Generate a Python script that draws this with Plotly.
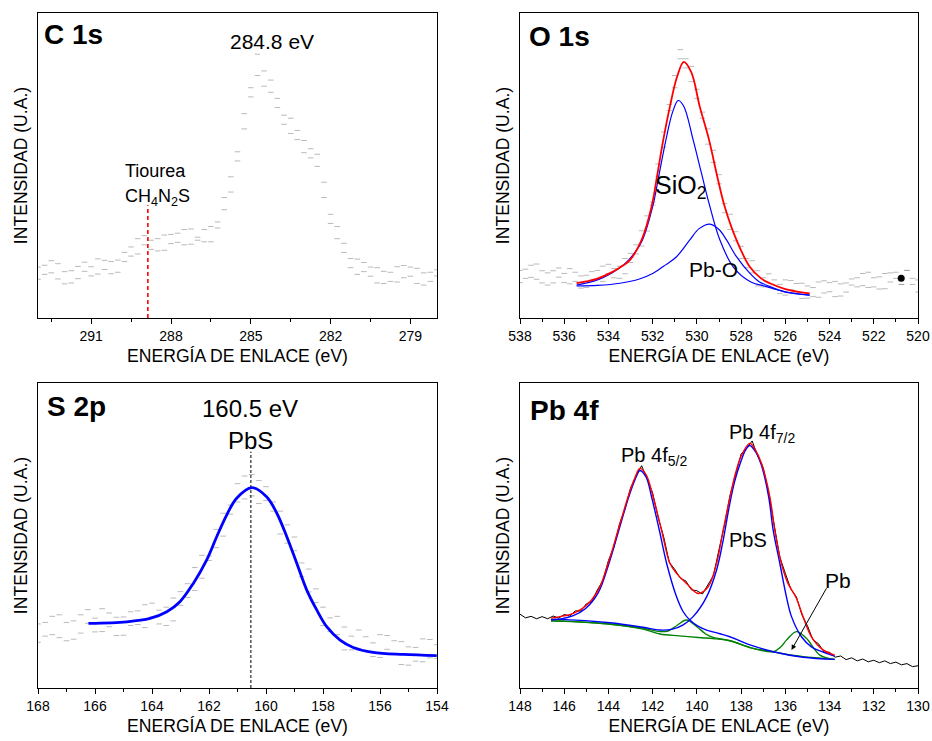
import plotly.graph_objects as go

FONT = "Liberation Sans, Arial, Helvetica, sans-serif"

# ---------------- C 1s ----------------
c1s_energy = [293.0, 292.75, 292.5, 292.25, 292.0, 291.75, 291.5, 291.25, 291.0, 290.75,
              290.5, 290.25, 290.0, 289.75, 289.5, 289.25, 289.0, 288.75, 288.5, 288.25,
              288.0, 287.75, 287.5, 287.25, 287.0, 286.75, 286.5, 286.25, 286.0, 285.75,
              285.5, 285.25, 285.0, 284.75, 284.5, 284.25, 284.0, 283.75, 283.5, 283.25,
              283.0, 282.75, 282.5, 282.25, 282.0, 281.75, 281.5, 281.25, 281.0, 280.75,
              280.5, 280.25, 280.0, 279.75, 279.5, 279.25, 279.0, 278.75, 278.5, 278.25, 278.0]
c1s_scan_a = [16.7, 14.3, 18.8, 12.8, 15.2, 11.5, 16.9, 15.3, 13.8, 19.4,
              15.9, 18.5, 15.0, 21.5, 20.3, 26.0, 24.0, 22.5, 26.0, 22.2,
              27.4, 24.8, 29.0, 24.2, 26.5, 29.0, 25.0, 31.5, 35.5, 46.3,
              51.5, 67.0, 72.5, 79.5, 76.0, 78.0, 69.0, 63.5, 65.5, 58.5,
              58.2, 52.5, 53.7, 39.5, 34.0, 26.0, 24.5, 16.5, 19.3, 15.2,
              13.7, 16.5, 11.3, 15.0, 11.8, 17.2, 13.7, 16.3, 10.8, 15.0, 13.8]
c1s_scan_b = [12.7, 17.3, 14.8, 17.8, 11.2, 15.5, 12.9, 18.3, 16.8, 14.4,
              18.9, 14.5, 19.0, 18.5, 23.3, 21.0, 27.0, 25.5, 22.0, 27.2,
              24.4, 27.8, 24.0, 29.2, 25.5, 25.0, 30.0, 29.5, 39.5, 41.3,
              54.5, 62.0, 75.5, 86.5, 81.0, 74.0, 72.0, 66.5, 60.5, 61.5,
              54.2, 55.5, 49.7, 44.5, 31.0, 30.0, 21.5, 19.5, 14.3, 18.2,
              16.7, 11.5, 15.3, 12.0, 16.8, 13.2, 16.7, 11.3, 14.8, 12.0, 15.8]
c1s_thiourea_energy = 288.87
c1s_thiourea_top = 37.0

# ---------------- O 1s ----------------
o1s_energy = [538.0, 537.75, 537.5, 537.25, 537.0, 536.75, 536.5, 536.25, 536.0, 535.75,
              535.5, 535.25, 535.0, 534.75, 534.5, 534.25, 534.0, 533.75, 533.5, 533.25,
              533.0, 532.75, 532.5, 532.25, 532.0, 531.75, 531.5, 531.25, 531.0, 530.75,
              530.5, 530.25, 530.0, 529.75, 529.5, 529.25, 529.0, 528.75, 528.5, 528.25,
              528.0, 527.75, 527.5, 527.25, 527.0, 526.75, 526.5, 526.25, 526.0, 525.75,
              525.5, 525.25, 525.0, 524.75, 524.5, 524.25, 524.0, 523.75, 523.5, 523.25,
              523.0, 522.75, 522.5, 522.25, 522.0, 521.75, 521.5, 521.25, 521.0, 520.75,
              520.5, 520.25, 520.0]
o1s_scan_a = [15.6, 13.0, 17.3, 12.7, 15.5, 10.8, 15.5, 13.4, 11.6, 16.2,
              12.0, 13.8, 10.0, 15.2, 12.6, 17.0, 14.6, 13.2, 17.0, 14.5,
              21.2, 21.0, 28.6, 28.5, 38.0, 50.5, 56.0, 70.0, 75.5, 85.0,
              82.0, 82.5, 72.0, 67.5, 57.0, 55.0, 44.0, 34.5, 34.0, 25.3,
              23.5, 16.5, 18.8, 10.5, 13.2, 10.5, 12.5, 8.0, 12.5, 9.3,
              8.3, 11.4, 6.5, 10.0, 6.8, 12.2, 8.6, 12.0, 7.2, 11.5,
              10.8, 13.2, 10.6, 15.0, 10.2, 13.5, 9.6, 14.8, 13.0, 11.0,
              15.6, 11.0, 12.5]
o1s_scan_b = [11.6, 16.0, 13.3, 17.7, 11.5, 14.8, 11.5, 16.4, 14.6, 11.2,
              15.0, 9.8, 14.0, 12.2, 15.6, 12.0, 17.6, 16.2, 13.0, 19.5,
              18.2, 24.0, 23.6, 33.5, 37.0, 46.5, 61.0, 68.0, 79.5, 88.0,
              85.0, 77.5, 75.0, 65.5, 62.0, 51.0, 47.0, 37.5, 29.0, 28.3,
              19.5, 19.5, 14.8, 15.5, 10.2, 14.5, 9.5, 11.0, 7.5, 12.3,
              11.3, 6.4, 10.5, 7.0, 11.8, 8.2, 11.6, 7.0, 11.2, 8.5,
              12.8, 10.2, 14.6, 10.0, 13.2, 9.5, 14.6, 11.8, 15.0, 11.0,
              15.6, 13.0, 8.5]
o1s_env_energy = [535.44, 535.0, 534.5, 533.93, 533.5, 533.03, 532.5, 532.05, 531.78, 531.52,
                  531.22, 530.9, 530.59, 530.25, 529.87, 529.45, 529.11, 528.74, 528.21, 527.61,
                  527.1, 526.7, 526.0, 525.4, 524.9]
o1s_env = [11.4, 12.0, 12.9, 14.7, 16.5, 19.0, 25.6, 36.5, 47.4, 58.4,
           69.3, 79.0, 84.0, 80.5, 69.3, 58.4, 47.4, 36.5, 25.6, 16.8,
           13.0, 11.4, 9.5, 8.6, 8.1]
o1s_sio2_energy = [535.44, 534.5, 533.86, 533.3, 532.8, 532.46, 532.0, 531.7, 531.4, 531.1,
                   530.85, 530.6, 530.17, 529.79, 529.41, 528.96, 528.36, 527.6, 526.85, 526.0, 524.9]
o1s_sio2 = [10.8, 12.5, 14.7, 17.5, 21.5, 25.6, 36.5, 47.4, 58.4, 67.5,
            71.3, 69.5, 58.4, 47.4, 36.5, 25.6, 16.8, 12.0, 10.3, 8.5, 7.5]
o1s_pbo_energy = [535.44, 534.5, 533.48, 532.6, 531.98, 531.4, 530.92, 530.32, 529.9, 529.41,
                  529.0, 528.66, 528.21, 527.61, 527.2, 526.7, 526.0, 524.9]
o1s_pbo = [10.5, 10.7, 11.4, 12.8, 14.7, 17.5, 20.1, 25.6, 29.3, 30.8,
           29.0, 25.6, 20.1, 14.7, 12.0, 10.3, 8.6, 7.5]
o1s_dot = (520.76, 13.0)

# ---------------- S 2p ----------------
s2p_energy = [168.0, 167.75, 167.5, 167.25, 167.0, 166.75, 166.5, 166.25, 166.0, 165.75,
              165.5, 165.25, 165.0, 164.75, 164.5, 164.25, 164.0, 163.75, 163.5, 163.25,
              163.0, 162.75, 162.5, 162.25, 162.0, 161.75, 161.5, 161.25, 161.0, 160.75,
              160.5, 160.25, 160.0, 159.75, 159.5, 159.25, 159.0, 158.75, 158.5, 158.25,
              158.0, 157.75, 157.5, 157.25, 157.0, 156.75, 156.5, 156.25, 156.0, 155.75,
              155.5, 155.25, 155.0, 154.75, 154.5, 154.25, 154.0]
s2p_scan_a = [21.0, 17.0, 23.5, 16.5, 21.5, 16.0, 24.0, 21.2, 18.4, 26.0,
              20.1, 23.2, 17.3, 25.0, 20.8, 27.3, 23.3, 21.0, 26.5, 22.0,
              31.6, 29.7, 39.5, 36.0, 43.3, 52.0, 49.8, 60.0, 61.0, 69.5,
              63.0, 68.0, 61.5, 61.0, 50.5, 53.5, 45.0, 36.5, 39.0, 28.0,
              26.5, 18.5, 23.5, 12.5, 17.0, 13.0, 16.8, 10.3, 17.5, 12.7,
              11.0, 15.2, 7.5, 13.3, 8.6, 15.9, 9.7]
s2p_scan_b = [15.0, 21.5, 17.5, 24.0, 15.5, 22.0, 18.0, 25.7, 22.9, 18.5,
              24.6, 17.2, 23.3, 20.5, 25.3, 19.8, 27.8, 25.5, 20.5, 29.5,
              27.1, 34.2, 32.0, 43.5, 41.8, 46.0, 57.3, 57.0, 67.0, 62.0,
              70.0, 60.5, 66.0, 58.0, 58.0, 47.5, 49.5, 41.0, 31.5, 32.5,
              20.5, 23.0, 17.5, 20.0, 12.5, 19.0, 12.3, 14.8, 10.0, 17.2,
              15.5, 7.7, 13.5, 8.8, 16.1, 9.9, 14.2]
s2p_fit_energy = [166.23, 164.89, 164.07, 163.48, 163.02, 162.55, 162.08, 161.73, 161.38, 161.03,
                  160.5, 159.98, 159.62, 159.27, 158.92, 158.57, 158.22, 157.87, 157.4, 156.94,
                  156.24, 155.18, 154.01]
s2p_fit = [21.2, 21.7, 22.8, 25.0, 28.3, 34.3, 42.0, 49.6, 56.7, 62.2,
           65.7, 62.7, 57.3, 49.6, 40.9, 32.1, 25.6, 20.1, 15.7, 13.3,
           11.7, 11.0, 10.6]
s2p_marker_energy = 160.53
s2p_marker_top = 77.5

# ---------------- Pb 4f ----------------
pb_energy = [148.0, 147.75, 147.5, 147.25, 147.0, 146.75, 146.5, 146.25, 146.0, 145.75,
             145.5, 145.25, 145.0, 144.75, 144.5, 144.25, 144.0, 143.75, 143.5, 143.25,
             143.0, 142.75, 142.5, 142.25, 142.0, 141.75, 141.5, 141.25, 141.0, 140.75,
             140.5, 140.25, 140.0, 139.75, 139.5, 139.25, 139.0, 138.75, 138.5, 138.25,
             138.0, 137.75, 137.5, 137.25, 137.0, 136.75, 136.5, 136.25, 136.0, 135.75,
             135.5, 135.25, 135.0, 134.75, 134.5, 134.25, 134.0, 133.75, 133.5, 133.25,
             133.0, 132.75, 132.5, 132.25, 132.0, 131.75, 131.5, 131.25, 131.0, 130.75,
             130.5, 130.25, 130.0]
pb_raw = [24.2, 23.0, 23.5, 22.7, 23.4, 22.7, 23.6, 22.9, 24.1, 23.6,
          25.3, 25.2, 27.6, 28.3, 32.2, 35.2, 41.8, 46.3, 53.8, 58.7,
          65.6, 69.2, 72.9, 68.6, 63.9, 55.8, 49.5, 41.2, 38.9, 36.0,
          35.1, 32.2, 31.9, 30.8, 33.7, 36.9, 45.4, 53.4, 63.2, 69.8,
          76.7, 78.6, 81.0, 76.1, 72.2, 63.8, 53.4, 42.9, 37.6, 32.4,
          29.9, 24.0, 20.4, 15.8, 14.5, 11.8, 11.7, 10.1, 10.5, 9.3,
          9.9, 8.9, 9.5, 8.6, 9.1, 8.3, 8.9, 8.0, 8.5, 7.6,
          8.0, 7.0, 7.3]
pb_env_energy = [146.6, 146.19, 145.59, 145.06, 144.46, 144.01, 143.56, 143.11, 142.8, 142.58,
                 142.3, 141.98, 141.6, 141.22, 140.92, 140.47, 139.94, 139.49, 139.11, 138.81,
                 138.5, 138.25, 138.0, 137.61, 137.35, 137.08, 136.7, 136.48, 136.18, 135.88,
                 135.53, 135.2, 134.82, 134.29, 133.77]
pb_env = [22.9, 23.4, 24.5, 26.7, 32.1, 40.9, 51.8, 62.7, 69.0, 72.0,
          70.0, 62.7, 51.8, 40.9, 37.6, 34.3, 31.0, 33.2, 40.9, 51.8,
          62.7, 70.5, 76.0, 80.2, 78.0, 73.7, 62.7, 51.8, 40.9, 34.3,
          29.9, 23.4, 16.8, 12.5, 10.8]
pb_52_energy = [146.6, 146.19, 145.59, 145.06, 144.46, 144.01, 143.56, 143.11, 142.8, 142.58,
                142.3, 142.05, 141.7, 141.37, 140.92, 140.62, 140.32, 139.95, 139.56, 138.96,
                138.51, 137.46, 136.55, 135.2, 133.77]
pb_52 = [22.4, 22.6, 23.7, 25.9, 31.3, 40.1, 51.0, 62.0, 68.3, 71.3,
         69.2, 62.7, 51.8, 40.9, 29.9, 25.0, 22.3, 20.3, 19.0, 17.8,
         16.8, 13.8, 11.9, 10.1, 9.4]
pb_72_energy = [146.6, 146.19, 143.93, 142.43, 141.67, 141.1, 140.62, 140.17, 139.56, 139.11,
                138.81, 138.55, 138.3, 138.0, 137.8, 137.61, 137.35, 137.08, 136.75, 136.55,
                136.25, 135.95, 135.72, 135.27, 134.82, 134.14, 133.77]
pb_72 = [22.5, 22.5, 21.4, 19.9, 19.0, 19.3, 20.7, 23.4, 29.9, 38.7,
         48.5, 59.0, 67.5, 74.5, 78.0, 79.5, 77.5, 73.0, 62.5, 51.8,
         40.9, 29.9, 23.4, 16.8, 13.5, 11.4, 10.5]
pb_metal_energy = [146.6, 146.19, 143.93, 142.43, 141.67, 141.3, 140.9, 140.47, 140.0, 139.6,
                   139.27, 138.51, 137.46, 136.55, 136.2, 135.95, 135.5, 135.05, 134.44, 133.77]
pb_metal = [22.0, 22.0, 21.0, 19.6, 18.5, 18.7, 20.5, 22.3, 20.1, 17.7,
            16.6, 15.5, 13.0, 11.9, 13.5, 15.7, 18.5, 16.3, 10.8, 9.4]
pb_bg_energy = [146.6, 146.19, 143.93, 142.43, 141.67, 140.8, 139.8, 139.27, 138.51, 137.46,
                136.55, 135.8, 135.2, 133.77]
pb_bg = [22.0, 21.9, 20.9, 19.3, 17.7, 17.1, 16.5, 16.2, 15.5, 13.0,
         11.9, 10.8, 10.3, 9.4]

RED = "#ff0000"
BLUE = "#0000ff"
GREEN = "#008000"
GRAY = "rgba(140,140,140,0.6)"

fig = go.Figure()


def scatter_points(x, y, xa, ya):
    fig.add_trace(go.Scatter(x=x, y=y, mode="markers", xaxis=xa, yaxis=ya,
                             marker=dict(symbol="line-ew", size=4, color=GRAY,
                                         line=dict(width=1, color=GRAY)),
                             hoverinfo="skip"))


def curve(x, y, xa, ya, color, width, shape="spline", dash=None):
    fig.add_trace(go.Scatter(x=x, y=y, mode="lines", xaxis=xa, yaxis=ya,
                             line=dict(color=color, width=width, shape=shape, dash=dash),
                             hoverinfo="skip"))


# C 1s
scatter_points(c1s_energy, c1s_scan_a, "x", "y")
scatter_points(c1s_energy, c1s_scan_b, "x", "y")
curve([c1s_thiourea_energy, c1s_thiourea_energy], [0, c1s_thiourea_top], "x", "y", RED, 1.6,
      "linear", "4px,3px")

# O 1s
scatter_points(o1s_energy, o1s_scan_a, "x2", "y2")
scatter_points(o1s_energy, o1s_scan_b, "x2", "y2")
curve(o1s_sio2_energy, o1s_sio2, "x2", "y2", BLUE, 1.2)
curve(o1s_pbo_energy, o1s_pbo, "x2", "y2", BLUE, 1.2)
curve(o1s_env_energy, o1s_env, "x2", "y2", RED, 1.8)
fig.add_trace(go.Scatter(x=[o1s_dot[0]], y=[o1s_dot[1]], mode="markers", xaxis="x2", yaxis="y2",
                         marker=dict(size=7, color="black"), hoverinfo="skip"))

# S 2p
scatter_points(s2p_energy, s2p_scan_a, "x3", "y3")
scatter_points(s2p_energy, s2p_scan_b, "x3", "y3")
curve([s2p_marker_energy, s2p_marker_energy], [0, s2p_marker_top], "x3", "y3", "black", 1.0,
      "linear", "3px,2px")
curve(s2p_fit_energy, s2p_fit, "x3", "y3", BLUE, 2.8)

# Pb 4f
curve(pb_energy, pb_raw, "x4", "y4", "black", 1.0, "linear")
curve(pb_bg_energy, pb_bg, "x4", "y4", GREEN, 1.4)
curve(pb_metal_energy, pb_metal, "x4", "y4", GREEN, 1.4)
curve(pb_52_energy, pb_52, "x4", "y4", BLUE, 1.4)
curve(pb_72_energy, pb_72, "x4", "y4", BLUE, 1.4)
curve(pb_env_energy, pb_env, "x4", "y4", RED, 1.4)

W, H = 932, 741
col_l = [38 / W, 437 / W]
col_r = [520 / W, 918 / W]
row_t = [1 - 318 / H, 1 - 13 / H]
row_b = [1 - 688 / H, 1 - 383 / H]


def xaxis(domain, rng, dtick, tick0, minor, anchor):
    return dict(domain=domain, range=rng, dtick=dtick, tick0=tick0, anchor=anchor,
                automargin=False,
                ticks="outside", ticklen=5, tickwidth=1, tickcolor="black",
                showline=True, linecolor="black", linewidth=1.3, mirror=True,
                showgrid=False, zeroline=False,
                tickfont=dict(size=14, color="black", family=FONT),
                title=dict(text="ENERGÍA DE ENLACE (eV)", font=dict(size=17.6, color="black", family=FONT),
                           standoff=6),
                minor=dict(dtick=minor, tick0=tick0, ticks="outside", ticklen=3, tickwidth=1,
                           tickcolor="black", showgrid=False))


def yaxis(domain, anchor):
    return dict(domain=domain, range=[0, 100], anchor=anchor, showticklabels=False, ticks="",
                automargin=False,
                showline=True, linecolor="black", linewidth=1.3, mirror=True,
                showgrid=False, zeroline=False,
                title=dict(text="INTENSIDAD (U.A.)", font=dict(size=17.6, color="black", family=FONT),
                           standoff=4))


ann = []


def text(x, y, s, xref, yref, size, xanchor="center", yanchor="middle", bold=False):
    ann.append(dict(x=x, y=y, xref=xref, yref=yref, text=("<b>%s</b>" % s) if bold else s,
                    showarrow=False, xanchor=xanchor, yanchor=yanchor,
                    font=dict(size=size, color="black", family=FONT)))


# panel titles
text(0.01, 0.928, "C 1s", "x domain", "y domain", 28, "left", bold=True)
text(0.017, 0.922, "O 1s", "x2 domain", "y2 domain", 28, "left", bold=True)
text(0.017, 0.922, "S 2p", "x3 domain", "y3 domain", 28, "left", bold=True)
text(0.019, 0.911, "Pb 4f", "x4 domain", "y4 domain", 28, "left", bold=True)

# C 1s labels
text(284.2, 90.6, "284.8 eV", "x", "y", 21)
text(289.8, 48.3, "Tiourea", "x", "y", 18, "left")
text(289.8, 39.6, "CH<sub>4</sub>N<sub>2</sub>S", "x", "y", 18, "left")

# O 1s labels
text(530.72, 43.0, "SiO<sub>2</sub>", "x2", "y2", 25)
text(529.23, 15.9, "Pb-O", "x2", "y2", 21)

# S 2p labels
text(160.56, 91.5, "160.5 eV", "x3", "y3", 24)
text(160.56, 81.3, "PbS", "x3", "y3", 24)

# Pb 4f labels
text(143.51, 76.0, "Pb 4f<sub>5/2</sub>", "x4", "y4", 20, "left")
text(138.66, 83.6, "Pb 4f<sub>7/2</sub>", "x4", "y4", 20, "left")
text(137.67, 48.5, "PbS", "x4", "y4", 20)
text(133.64, 35.4, "Pb", "x4", "y4", 21)
ann.append(dict(x=135.72, y=12.5, ax=134.1, ay=33.2, xref="x4", yref="y4", axref="x4", ayref="y4",
                text="", showarrow=True, arrowhead=2, arrowsize=1, arrowwidth=1, arrowcolor="black"))

fig.update_layout(
    width=W, height=H, margin=dict(l=0, r=0, t=0, b=0, autoexpand=False),
    paper_bgcolor="white", plot_bgcolor="white", showlegend=False,
    font=dict(family=FONT, color="black"),
    xaxis=xaxis(col_l, [293, 278], 3, 279, 1.5, "y"),
    yaxis=yaxis(row_t, "x"),
    xaxis2=xaxis(col_r, [538, 520], 2, 520, 1, "y2"),
    yaxis2=yaxis(row_t, "x2"),
    xaxis3=xaxis(col_l, [168, 154], 2, 154, 1, "y3"),
    yaxis3=yaxis(row_b, "x3"),
    xaxis4=xaxis(col_r, [148, 130], 2, 130, 1, "y4"),
    yaxis4=yaxis(row_b, "x4"),
    annotations=ann,
)

fig.write_html("out.html")
